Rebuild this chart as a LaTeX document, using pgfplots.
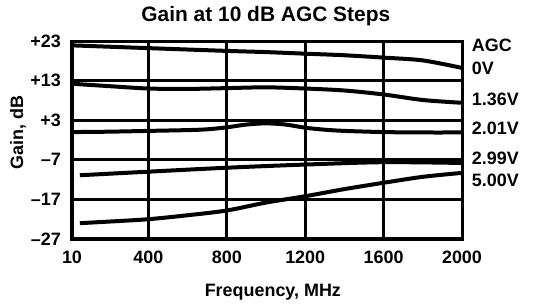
\documentclass[border=0pt]{standalone}
\usepackage{fontspec}
\setmainfont{Liberation Sans}
\usepackage{pgfplots}
\pgfplotsset{compat=1.18}
\begin{document}
\begin{tikzpicture}
\begin{axis}[
  scale only axis, width=390bp, height=198bp,
  xmin=10, xmax=2000, ymin=-27, ymax=23,
  xtick={10,400,800,1200,1600,2000},
  xticklabels={10,400,800,1200,1600,2000},
  ytick={-27,-17,-7,3,13,23},
  yticklabels={–27,–17,–7,+3,+13,+23},
  grid=major, major grid style={black, line width=3bp},
  axis line style={black, line width=3bp},
  tick style={draw=none},
  ticklabel style={font=\fontsize{18}{20}\selectfont\bfseries},
  xticklabel style={anchor=base, yshift=-24.3bp},
  yticklabel style={anchor=east, inner sep=0pt, xshift=-11bp},
  xlabel={Frequency, MHz}, ylabel={Gain, dB},
  label style={font=\fontsize{18}{20}\selectfont\bfseries},
  xlabel style={at={(axis description cs:0.515,-0.288)}, anchor=base},
  ylabel style={at={(axis description cs:-0.1385,0.538)}, anchor=center},
  title={Gain at 10 dB AGC Steps},
  title style={font=\fontsize{21}{24}\selectfont\bfseries, at={(axis description cs:0.497,1.069)}, anchor=base},
  clip=false,
]
% 0V
\addplot[black, line width=4bp, smooth, line join=round, no marks] coordinates {(10,21.9) (400,21.2) (800,20.5) (1000,20.2) (1200,19.8) (1400,19.4) (1600,18.8) (1800,18.1) (2000,16.2)};
% 1.36V
\addplot[black, line width=4bp, smooth, line join=round, no marks] coordinates {(10,12.2) (200,11.6) (400,11.0) (600,10.9) (800,11.1) (1000,11.3) (1200,11.0) (1400,10.5) (1600,9.5) (1800,8.1) (2000,7.4)};
% 2.01V
\addplot[black, line width=4bp, smooth, line join=round, no marks] coordinates {(10,0.0) (200,0.1) (400,0.3) (600,0.5) (700,0.7) (800,1.2) (900,1.9) (1000,2.2) (1100,1.9) (1200,1.1) (1300,0.6) (1400,0.3) (1600,0.0) (1800,-0.1) (2000,-0.1)};
% 2.99V
\addplot[black, line width=4bp, smooth, line join=round, no marks] coordinates {(50,-10.9) (400,-10.0) (800,-9.0) (1200,-8.2) (1600,-7.6) (2000,-7.8)};
% 5.00V
\addplot[black, line width=4bp, smooth, line join=round, no marks] coordinates {(50,-23.0) (200,-22.6) (400,-22.0) (600,-21.0) (800,-19.8) (1000,-17.8) (1200,-16.2) (1400,-14.4) (1600,-12.8) (1800,-11.3) (2000,-10.3)};
\begin{scope}[every node/.style={anchor=west, inner sep=0pt, xshift=9.7bp, font=\fontsize{18}{20}\selectfont\bfseries}]
\node at (axis cs:2000,21.9) {AGC};
\node at (axis cs:2000,16.0) {0V};
\node at (axis cs:2000,8.3) {1.36V};
\node at (axis cs:2000,1.0) {2.01V};
\node at (axis cs:2000,-6.75) {2.99V};
\node at (axis cs:2000,-12.3) {5.00V};
\end{scope}
\coordinate (SW) at (rel axis cs:0,0);
\coordinate (NE) at (rel axis cs:1,1);
\end{axis}
\pgfresetboundingbox
\useasboundingbox ([shift={(-72bp,-66bp)}]SW) rectangle ([shift={(71bp,41bp)}]NE);
\end{tikzpicture}
\end{document}
